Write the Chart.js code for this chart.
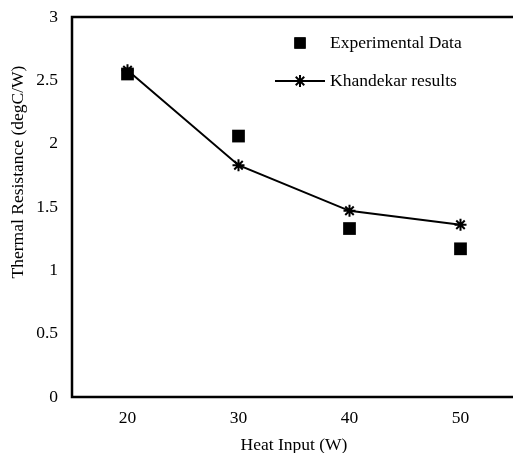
<!DOCTYPE html>
<html lang="en">

<head>
    <meta charset="UTF-8">
    <title>Thermal Resistance</title>
    <style>
        body { margin: 0; background: #fff; overflow: hidden; }
        .graph { width: 525px; height: 453px; }
    </style>
</head>

<body>
    <div class="graph">
        <canvas id="myChartCanvas" width="525" height="453"></canvas>
    </div>
</body>

</html>
<script src="https://cdn.jsdelivr.net/npm/chart.js"></script>
<script>
    // dados
    const heatInput = [20, 30, 40, 50];
    const experimental = [2.55, 2.06, 1.33, 1.17];
    const khandekar = [2.58, 1.83, 1.47, 1.36];
    const xTicks = [20, 30, 40, 50];
    const yTicks = [0, 0.5, 1, 1.5, 2, 2.5, 3];

    const familia = "'Liberation Serif', 'Times New Roman', serif";
    const fonte = { family: familia, size: 17.5 };

    function pontos(valores) {
        let lista = [];
        for (let i = 0; i < heatInput.length; i++) {
            lista.push({ x: heatInput[i], y: valores[i] });
        }
        return lista;
    }

    // moldura: esquerda, topo e base (sem lado direito)
    const moldura = {
        id: 'moldura',
        beforeDatasetsDraw(chart) {
            const { ctx, chartArea } = chart;
            ctx.save();
            ctx.strokeStyle = '#000';
            ctx.lineWidth = 2.5;
            ctx.beginPath();
            ctx.moveTo(chartArea.right + 10, chartArea.top);
            ctx.lineTo(chartArea.left, chartArea.top);
            ctx.lineTo(chartArea.left, chartArea.bottom);
            ctx.lineTo(chartArea.right + 10, chartArea.bottom);
            ctx.stroke();
            ctx.restore();
        }
    };

    // titulo do eixo y e legenda dentro da área do gráfico
    const legenda = {
        id: 'legenda',
        afterDraw(chart) {
            const ctx = chart.ctx;
            const ds = chart.data.datasets;
            ctx.save();
            ctx.fillStyle = '#000';
            ctx.strokeStyle = '#000';
            ctx.font = fonte.size + 'px ' + familia;
            ctx.textBaseline = 'middle';

            // titulo do eixo y
            ctx.save();
            ctx.translate(18, 172);
            ctx.rotate(-Math.PI / 2);
            ctx.textAlign = 'center';
            ctx.fillText('Thermal Resistance (degC/W)', 0, 0);
            ctx.restore();

            // Experimental Data
            Chart.helpers.drawPoint(ctx, { pointStyle: 'rect', radius: 8, borderWidth: 0 }, 300, 43);
            ctx.fill();
            ctx.fillText(ds[0].label, 330, 43);

            // Khandekar results
            ctx.lineWidth = 2;
            ctx.beginPath();
            ctx.moveTo(275, 81);
            ctx.lineTo(325, 81);
            ctx.stroke();
            Chart.helpers.drawPoint(ctx, { pointStyle: 'star', radius: 6, borderWidth: 2 }, 300, 81);
            ctx.fillText(ds[1].label, 330, 81);
            ctx.restore();
        }
    };

    const config = {
        type: 'scatter',
        data: {
            datasets: [{
                label: 'Experimental Data',
                data: pontos(experimental),
                pointStyle: 'rect',
                pointRadius: 9,
                pointBorderWidth: 0,
                backgroundColor: '#000',
                borderColor: '#000',
                showLine: false
            }, {
                label: 'Khandekar results',
                data: pontos(khandekar),
                pointStyle: 'star',
                pointRadius: 6,
                pointBorderWidth: 2,
                borderColor: '#000',
                backgroundColor: '#000',
                borderWidth: 2,
                showLine: true,
                fill: false
            }]
        },
        options: {
            responsive: false,
            animation: false,
            layout: { padding: { top: 17, right: 0, left: 0, bottom: 0 } },
            plugins: {
                legend: { display: false },
                tooltip: { enabled: false }
            },
            scales: {
                x: {
                    type: 'linear',
                    min: 15,
                    max: 55,
                    grid: { display: false, drawTicks: false },
                    border: { display: false },
                    afterBuildTicks: (scale) => { scale.ticks = xTicks.map(v => ({ value: v })); },
                    afterFit: (scale) => { scale.height = 56; },
                    ticks: { color: '#000', font: fonte, padding: 11 },
                    title: { display: true, text: 'Heat Input (W)', color: '#000', font: fonte, padding: { top: 0, bottom: -3 } }
                },
                y: {
                    min: 0,
                    max: 3,
                    grid: { display: false, drawTicks: false },
                    border: { display: false },
                    afterBuildTicks: (scale) => { scale.ticks = yTicks.map(v => ({ value: v })); },
                    afterFit: (scale) => { scale.width = 72; scale.paddingTop = 0; scale.paddingBottom = 0; },
                    ticks: { color: '#000', font: fonte, padding: 14, callback: (v) => String(v) },
                    title: { display: false }
                }
            }
        },
        plugins: [moldura, legenda]
    };

    let myChart = new Chart(document.getElementById('myChartCanvas'), config);
</script>
